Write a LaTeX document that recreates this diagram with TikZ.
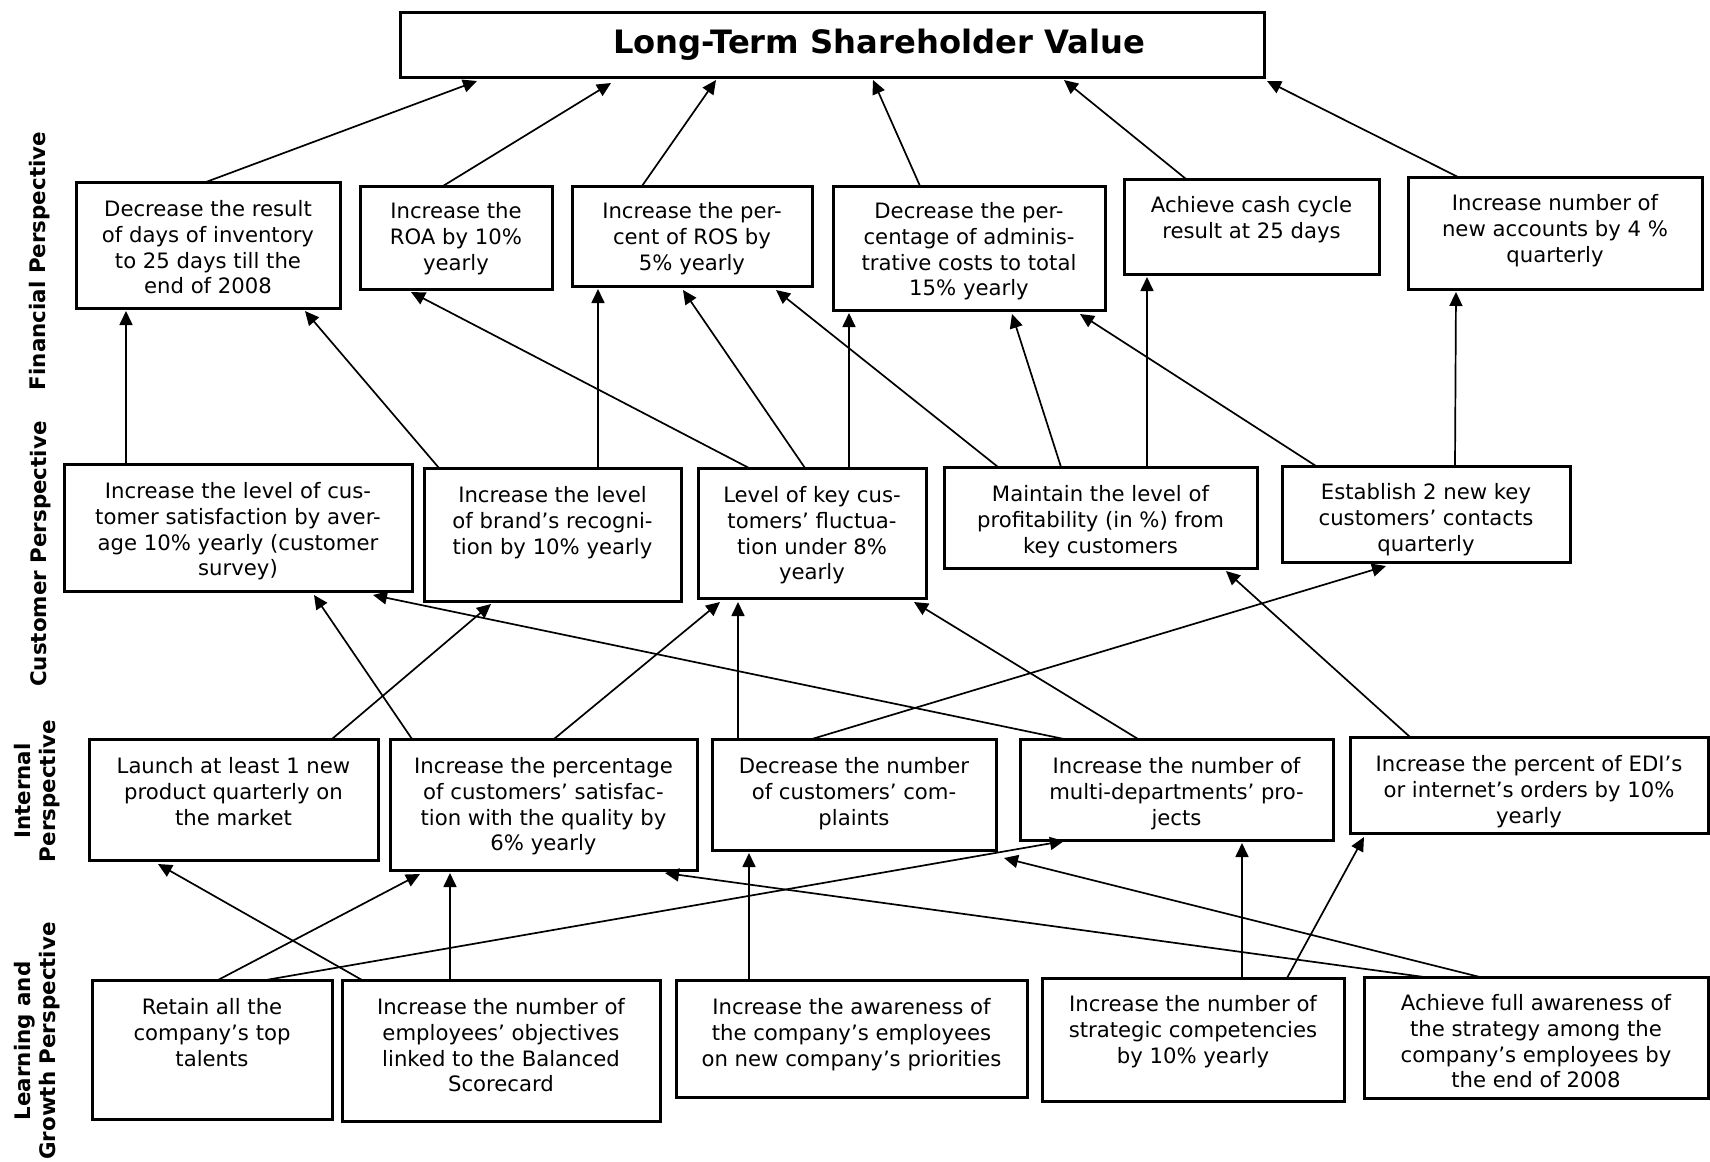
\documentclass[tikz,border=0pt]{standalone}
\usepackage{fontspec}
\setmainfont{DejaVu Sans}
\usetikzlibrary{arrows.meta,calc}
\newcommand\mkbox[5]{\node[box, minimum width={(#4-#2)*0.5pt}, minimum height={(#5-#3)*0.5pt}] (#1) at (#2,#3) {};}
\newcommand\mktxt[3]{\node[txt] (#1t) at ($(#1.north)+(0,#2)$) {#3};}
\newcommand\lnk[4]{\draw[arr] ($(#1.north west)+(#2,0)$) -- ($(#3.south west)+(#4)$);}
\begin{document}
\begin{tikzpicture}[x=0.5pt,y=-0.5pt,
  box/.style={draw=black, line width=1.5pt, inner sep=0pt, outer sep=0pt, anchor=north west},
  txt/.style={align=center, inner sep=0pt, anchor=north, font=\fontsize{10.6}{12.9}\selectfont},
  side/.style={align=center, inner sep=0pt, rotate=90, font=\bfseries\fontsize{10.7}{12.5}\selectfont},
  arr/.style={line width=0.85pt, -{Triangle[length=7pt,width=6.5pt]}}]
\useasboundingbox (0,0) rectangle (1710,1162);
% side labels
\node[side] (SF) at (40,261) {Financial Perspective};
\node[side] (SC) at (41,554) {Customer Perspective};
\node[side] (SI) at (37,791) {Internal\\Perspective};
\node[side] (SL) at (37,1041) {Learning and\\Growth Perspective};
% title
\mkbox{T}{400}{12}{1264}{77}
\node[anchor=base, inner sep=0pt, font=\bfseries\fontsize{16.1}{18}\selectfont] (Tt) at (879,53) {Long-Term Shareholder Value};
% financial
\mkbox{F1}{76}{182}{340}{308}
\mkbox{F2}{360}{186}{552}{289}
\mkbox{F3}{572}{186}{812}{286}
\mkbox{F4}{833}{186}{1105}{310}
\mkbox{F5}{1124}{179}{1379}{274}
\mkbox{F6}{1408}{177}{1702}{289}
\mktxt{F1}{18}{Decrease the result\\of days of inventory\\to 25 days till the\\end of 2008}
\mktxt{F2}{16}{Increase the\\ROA by 10\%\\yearly}
\mktxt{F3}{16}{Increase the per-\\cent of ROS by\\5\% yearly}
\mktxt{F4}{16}{Decrease the per-\\centage of adminis-\\trative costs to total\\15\% yearly}
\mktxt{F5}{17}{Achieve cash cycle\\result at 25 days}
\mktxt{F6}{17}{Increase number of\\new accounts by 4 \%\\quarterly}
% customer
\mkbox{C1}{64}{464}{412}{591}
\mkbox{C2}{424}{468}{681}{601}
\mkbox{C3}{698}{468}{926}{598}
\mkbox{C4}{944}{467}{1257}{568}
\mkbox{C5}{1282}{466}{1570}{562}
\mktxt{C1}{18}{Increase the level of cus-\\tomer satisfaction by aver-\\age 10\% yearly (customer\\survey)}
\mktxt{C2}{18}{Increase the level\\of brand’s recogni-\\tion by 10\% yearly}
\mktxt{C3}{18}{Level of key cus-\\tomers’ fluctua-\\tion under 8\%\\yearly}
\mktxt{C4}{18}{Maintain the level of\\profitability (in \%) from\\key customers}
\mktxt{C5}{17}{Establish 2 new key\\customers’ contacts\\quarterly}
% internal
\mkbox{I1}{89}{739}{378}{860}
\mkbox{I2}{390}{739}{697}{870}
\mkbox{I3}{712}{739}{996}{850}
\mkbox{I4}{1020}{739}{1333}{840}
\mkbox{I5}{1350}{737}{1708}{833}
\mktxt{I1}{18}{Launch at least 1 new\\product quarterly on\\the market}
\mktxt{I2}{18}{Increase the percentage\\of customers’ satisfac-\\tion with the quality by\\6\% yearly}
\mktxt{I3}{18}{Decrease the number\\of customers’ com-\\plaints}
\mktxt{I4}{18}{Increase the number of\\multi-departments’ pro-\\jects}
\mktxt{I5}{18}{Increase the percent of EDI’s\\or internet’s orders by 10\%\\yearly}
% learning and growth
\mkbox{G1}{92}{980}{332}{1119}
\mkbox{G2}{342}{980}{660}{1121}
\mkbox{G3}{676}{980}{1027}{1097}
\mkbox{G4}{1042}{978}{1344}{1101}
\mkbox{G5}{1364}{977}{1708}{1098}
\mktxt{G1}{18}{Retain all the\\company’s top\\talents}
\mktxt{G2}{18}{Increase the number of\\employees’ objectives\\linked to the Balanced\\Scorecard}
\mktxt{G3}{18}{Increase the awareness of\\the company’s employees\\on new company’s priorities}
\mktxt{G4}{17}{Increase the number of\\strategic competencies\\by 10\% yearly}
\mktxt{G5}{17}{Achieve full awareness of\\the strategy among the\\company’s employees by\\the end of 2008}
% financial -> title
\lnk{F1}{130}{T}{77,4}
\lnk{F2}{83}{T}{211,6}
\lnk{F3}{70}{T}{316,3}
\lnk{F4}{87}{T}{473,3}
\lnk{F5}{62}{T}{664,3}
\lnk{F6}{50}{T}{867,4}
% customer -> financial
\lnk{C1}{62}{F1}{50,3}
\lnk{C2}{15}{F1}{229,3}
\lnk{C2}{174}{F3}{26,3}
\lnk{C3}{51}{F2}{51,3}
\lnk{C3}{107}{F3}{111,4}
\lnk{C3}{151}{F4}{16,3}
\lnk{C4}{54}{F3}{204,4}
\lnk{C4}{117}{F4}{179,4}
\lnk{C4}{203}{F5}{23,3}
\lnk{C5}{34}{F4}{247,4}
\lnk{C5}{173}{F6}{48,3}
% internal -> customer
\lnk{I1}{243}{C2}{67,3}
\lnk{I2}{22}{C1}{250,4}
\lnk{I2}{164}{C3}{22,4}
\lnk{I3}{26}{C3}{40,4}
\lnk{I3}{100}{C5}{104,4}
\lnk{I4}{44}{C1}{309,4}
\lnk{I4}{118}{C3}{216,4}
\lnk{I5}{60}{C4}{282,3}
% learning -> internal
\lnk{G1}{126}{I2}{30,4}
\lnk{G1}{174}{I4}{44,1}
\lnk{G2}{20}{I1}{69,4}
\lnk{G2}{108}{I2}{60,3}
\lnk{G3}{73}{I3}{37,3}
\lnk{G4}{200}{I4}{222,3}
\lnk{G4}{245}{I5}{14,4}
\lnk{G5}{60}{I2}{275,3}
\lnk{G5}{116}{I3}{292,8}
\end{tikzpicture}
\end{document}
